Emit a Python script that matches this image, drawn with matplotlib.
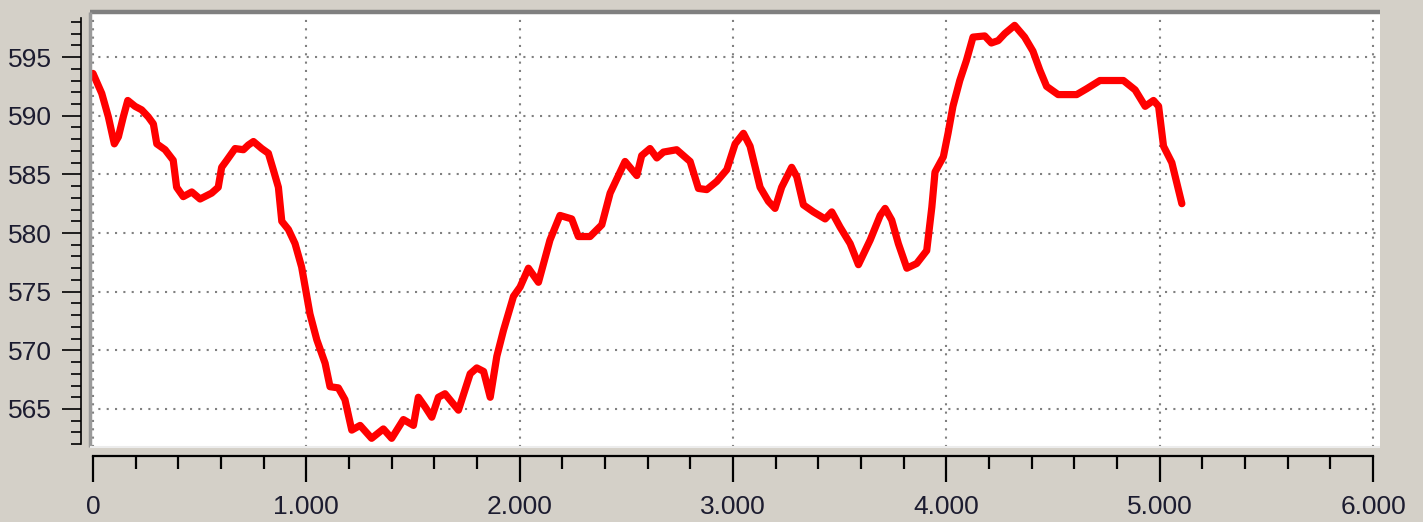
import matplotlib
matplotlib.use("Agg")
import matplotlib.pyplot as plt
from matplotlib.ticker import MultipleLocator, FuncFormatter

# profile (distance, elevation)
dist = [0, 41, 72, 100, 119, 142, 163, 197, 228, 259, 283, 299, 338, 376, 392,
        423, 463, 502, 556, 587, 603, 627, 666, 705, 728, 752, 791, 822, 845,
        869, 885, 916, 947, 978, 1017, 1049, 1088, 1111, 1150, 1181, 1213, 1252,
        1306, 1361, 1400, 1455, 1502, 1525, 1556, 1588, 1619, 1650, 1713, 1768,
        1799, 1831, 1862, 1893, 1924, 1971, 2002, 2041, 2088, 2142, 2189, 2244,
        2275, 2330, 2385, 2424, 2494, 2549, 2572, 2611, 2643, 2674, 2736, 2799,
        2838, 2877, 2924, 2971, 3010, 3049, 3080, 3127, 3166, 3197, 3228, 3275,
        3299, 3330, 3377, 3432, 3463, 3502, 3549, 3588, 3643, 3690, 3713, 3744,
        3775, 3815, 3861, 3908, 3932, 3947, 3986, 4008, 4031, 4063, 4094, 4125,
        4180, 4211, 4243, 4274, 4320, 4367, 4406, 4438, 4470, 4524, 4611, 4658,
        4720, 4830, 4885, 4932, 4971, 4995, 5018, 5057, 5104]
elev = [593.6, 591.9, 589.9, 587.6, 588.2, 589.9, 591.3, 590.8, 590.5, 589.9,
        589.3, 587.6, 587.1, 586.2, 583.9, 583.1, 583.5, 582.9, 583.4, 583.9,
        585.6, 586.2, 587.2, 587.1, 587.5, 587.8, 587.2, 586.8, 585.4, 583.9,
        581.0, 580.3, 579.1, 577.1, 573.1, 570.9, 568.9, 566.9, 566.8, 565.8,
        563.2, 563.6, 562.5, 563.3, 562.5, 564.1, 563.6, 566.0, 565.2, 564.3,
        566.0, 566.3, 564.9, 568.0, 568.5, 568.2, 566.0, 569.5, 571.7, 574.6,
        575.4, 577.0, 575.8, 579.4, 581.5, 581.2, 579.7, 579.7, 580.7, 583.4,
        586.1, 584.9, 586.6, 587.2, 586.4, 586.9, 587.1, 586.1, 583.8, 583.7,
        584.4, 585.4, 587.6, 588.5, 587.4, 583.9, 582.7, 582.1, 583.9, 585.6,
        584.8, 582.4, 581.8, 581.2, 581.8, 580.5, 579.1, 577.3, 579.4, 581.5,
        582.1, 581.1, 579.1, 577.0, 577.4, 578.5, 582.2, 585.2, 586.5, 588.5,
        590.8, 593.0, 594.7, 596.7, 596.8, 596.2, 596.4, 597.0, 597.7, 596.7,
        595.5, 593.9, 592.5, 591.8, 591.8, 592.3, 593.0, 593.0, 592.2, 590.8,
        591.3, 590.8, 587.4, 586.0, 582.5]

bg = '#d4d0c8'
txt = '#1c1c30'
plt.rcParams['font.family'] = ['Liberation Sans', 'DejaVu Sans']

fig = plt.figure(figsize=(14.23, 5.22), dpi=100, facecolor=bg)
ax = fig.add_axes([90 / 1423, 1 - 447 / 522, 1290 / 1423, 435 / 522])
ax.set_facecolor('white')

ax.plot(dist, elev, color='#ff0000', linewidth=5.2, solid_joinstyle='round',
        solid_capstyle='round', zorder=3)

ax.set_xlim(-14.06, 6032.8)
ax.set_ylim(561.76, 598.84)

# grid
ax.xaxis.set_major_locator(MultipleLocator(1000))
ax.xaxis.set_minor_locator(MultipleLocator(200))
ax.yaxis.set_major_locator(MultipleLocator(5))
ax.yaxis.set_minor_locator(MultipleLocator(1))
ax.grid(True, which='major', color='#808080', linestyle=(0, (1, 3)), linewidth=1.5)

ax.xaxis.set_major_formatter(FuncFormatter(lambda v, p: '0' if v == 0 else f'{v / 1000:.3f}'))

# axes detached from the plot frame
for s in ['top', 'right']:
    ax.spines[s].set_visible(False)
ax.spines['left'].set_position(('outward', 6.5))
ax.spines['bottom'].set_position(('outward', 6.5))
ax.spines['left'].set_bounds(562, 598.3)
ax.spines['bottom'].set_bounds(0, 6000)
ax.spines['left'].set_linewidth(1.2)
ax.spines['bottom'].set_linewidth(1.6)

ax.tick_params(axis='y', which='major', direction='out', length=13.7, width=1.2,
               labelsize=19, labelcolor=txt, pad=7)
ax.tick_params(axis='y', which='minor', direction='out', length=7.2, width=1.2)
ax.tick_params(axis='x', which='major', direction='out', length=18.7, width=1.6,
               labelsize=19, labelcolor=txt, pad=9)
ax.tick_params(axis='x', which='minor', direction='out', length=9.4, width=1.6)

# sunken frame of the plot area
ax.plot([0, 1], [1, 1], transform=ax.transAxes, color='#808080', linewidth=3.2,
        clip_on=False, zorder=4, solid_capstyle='butt')
ax.plot([0, 0], [0, 1], transform=ax.transAxes, color='#9a9a9a', linewidth=2.5,
        clip_on=False, zorder=4, solid_capstyle='butt')
ax.plot([0, 1], [0, 0], transform=ax.transAxes, color='#ececec', linewidth=1.5,
        clip_on=False, zorder=4, solid_capstyle='butt')

fig.savefig('out.png', dpi=100, facecolor=bg)
